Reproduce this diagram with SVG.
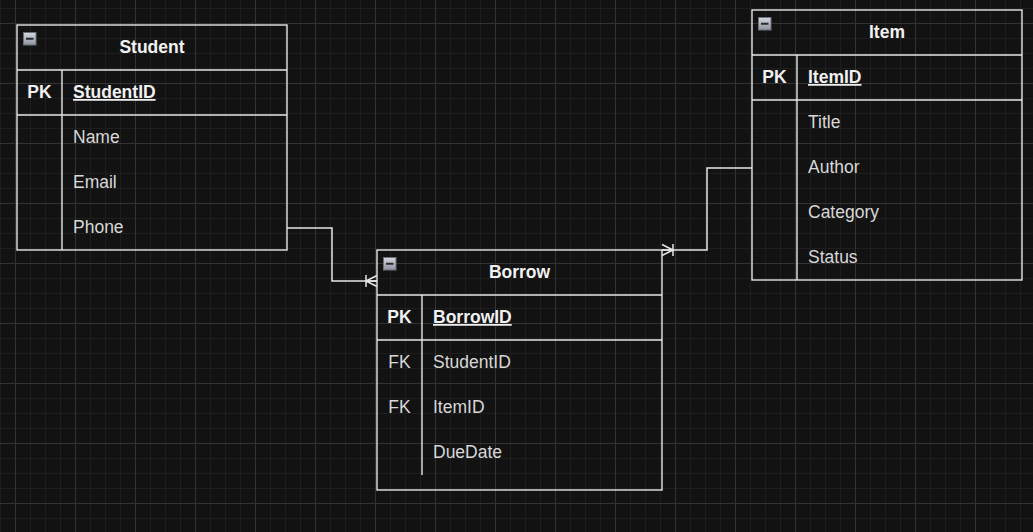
<svg xmlns="http://www.w3.org/2000/svg" width="1033" height="532" viewBox="0 0 1033 532">
  <style>
    .box { fill: none; stroke: #e6e6e6; stroke-width: 1.4; }
    .sep { stroke: #e6e6e6; stroke-width: 1.4; fill: none; }
    .title { font-family: "Liberation Sans", Arial, sans-serif; font-size: 17.5px; font-weight: bold; fill: #f2f2f2; text-anchor: middle; }
    .key { font-family: "Liberation Sans", Arial, sans-serif; font-size: 17.5px; font-weight: bold; fill: #f0f0f0; text-anchor: middle; }
    .fkey { font-family: "Liberation Sans", Arial, sans-serif; font-size: 17.5px; fill: #d8d8d8; text-anchor: middle; }
    .pk { font-family: "Liberation Sans", Arial, sans-serif; font-size: 17.5px; font-weight: bold; fill: #f0f0f0; text-decoration: underline; }
    .field { font-family: "Liberation Sans", Arial, sans-serif; font-size: 17.5px; fill: #d8d8d8; }
    .conn { fill: none; stroke: #e6e6e6; stroke-width: 1.5; }
  </style>
  <defs>
    <pattern id="minor" x="15" y="23" width="15" height="15" patternUnits="userSpaceOnUse">
      <path d="M0.5,0 V15 M0,0.5 H15" stroke="#1e1e1e" stroke-width="1" fill="none"/>
    </pattern>
    <pattern id="major" x="15" y="23" width="60" height="60" patternUnits="userSpaceOnUse">
      <path d="M0.5,0 V60 M0,0.5 H60" stroke="#333333" stroke-width="1" fill="none"/>
    </pattern>
    <linearGradient id="iconGrad" x1="0" y1="0" x2="0" y2="1">
      <stop offset="0" stop-color="#d4d7de"/>
      <stop offset="1" stop-color="#8e94a2"/>
    </linearGradient>
    <g id="collapse">
      <rect x="0.5" y="0.5" width="12.5" height="12.5" fill="url(#iconGrad)" stroke="#6c717c" stroke-width="1"/>
      <path d="M3,6.75 H10.5" stroke="#2a2a2a" stroke-width="2"/>
    </g>
    <marker id="erOneToMany" markerUnits="userSpaceOnUse" markerWidth="14" markerHeight="16" viewBox="0 0 14 16" refX="13" refY="8" orient="auto">
      <path d="M2,2 V14 M2,8 L13,2.5 M2,8 L13,13.5 M2,8 H13" fill="none" stroke="#e6e6e6" stroke-width="1.5"/>
    </marker>
  </defs>

  <rect width="1033" height="532" fill="#121212"/>
  <rect width="1033" height="532" fill="url(#minor)"/>
  <rect width="1033" height="532" fill="url(#major)"/>

  <g id="connectors">
    <path class="conn" d="M287,228 H332 V281 H377" marker-end="url(#erOneToMany)"/>
    <path class="conn" d="M752,168 H707 V250 H662" marker-end="url(#erOneToMany)"/>
  </g>

  <g id="student">
    <rect class="box" x="17" y="25" width="270" height="225"/>
    <path class="sep" d="M17,70 H287 M17,115 H287 M62,70 V250"/>
    <use href="#collapse" x="23" y="32"/>
    <text class="title" x="152" y="53">Student</text>
    <text class="key" x="39.5" y="98">PK</text>
    <text class="pk" x="73" y="98">StudentID</text>
    <text class="field" x="73" y="143">Name</text>
    <text class="field" x="73" y="188">Email</text>
    <text class="field" x="73" y="233">Phone</text>
  </g>

  <g id="item">
    <rect class="box" x="752" y="10" width="270" height="270"/>
    <path class="sep" d="M752,55 H1022 M752,100 H1022 M797,55 V280"/>
    <use href="#collapse" x="758" y="17"/>
    <text class="title" x="887" y="38">Item</text>
    <text class="key" x="774.5" y="83">PK</text>
    <text class="pk" x="808" y="83">ItemID</text>
    <text class="field" x="808" y="128">Title</text>
    <text class="field" x="808" y="173">Author</text>
    <text class="field" x="808" y="218">Category</text>
    <text class="field" x="808" y="263">Status</text>
  </g>

  <g id="borrow">
    <rect class="box" x="377" y="250" width="285" height="240"/>
    <path class="sep" d="M377,295 H662 M377,340 H662 M422,295 V475"/>
    <use href="#collapse" x="383" y="257"/>
    <text class="title" x="519.5" y="278">Borrow</text>
    <text class="key" x="399.5" y="323">PK</text>
    <text class="pk" x="433" y="323">BorrowID</text>
    <text class="fkey" x="399.5" y="368">FK</text>
    <text class="field" x="433" y="368">StudentID</text>
    <text class="fkey" x="399.5" y="413">FK</text>
    <text class="field" x="433" y="413">ItemID</text>
    <text class="field" x="433" y="458">DueDate</text>
  </g>
</svg>
